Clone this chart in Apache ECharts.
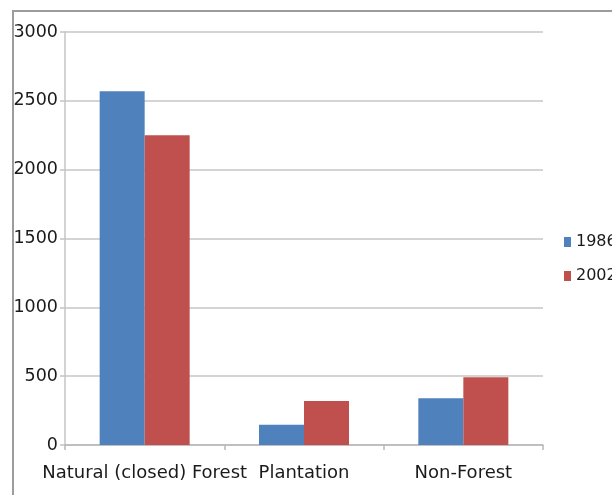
<!DOCTYPE html>
<html>
<head>
<meta charset="utf-8">
<script src="https://cdn.jsdelivr.net/npm/echarts@6/dist/echarts.min.js"></script>
<style>
  html, body { margin: 0; padding: 0; background: #fff; }
  #chart { width: 612px; height: 495px; }
</style>
</head>
<body>
<div id="chart"></div>
<script>
// Land cover area by class, two survey years
const categories = ['Natural (closed) Forest', 'Plantation', 'Non-Forest'];
const seriesNames = ['1986', '2002'];
const values1986 = [2570, 147, 340];
const values2002 = [2250, 320, 492];
const yTicks = { min: 0, max: 3000, interval: 500 };

const FONT = 'DejaVu Sans';
const chart = echarts.init(document.getElementById('chart'), null, { renderer: 'canvas' });

chart.setOption({
  animation: false,
  backgroundColor: '#ffffff',
  graphic: [{
    type: 'rect',
    silent: true,
    shape: { x: 13, y: 11, width: 700, height: 600 },
    style: { fill: 'none', stroke: '#9c9c9c', lineWidth: 2 }
  }],
  grid: { left: 65, right: 69, top: 32, bottom: 50, containLabel: false },
  legend: {
    orient: 'vertical',
    left: 559,
    top: 228,
    itemWidth: 7,
    itemHeight: 10,
    itemGap: 16,
    icon: 'rect',
    textStyle: { fontFamily: FONT, fontSize: 16, color: '#1a1a1a', lineHeight: 18 },
    data: seriesNames
  },
  xAxis: {
    type: 'category',
    data: categories,
    axisLine: { show: true, lineStyle: { color: '#b8b8b8', width: 1.5 } },
    axisTick: { show: true, length: 5, lineStyle: { color: '#b8b8b8', width: 1.5 } },
    axisLabel: {
      interval: 0,
      margin: 18,
      fontFamily: FONT,
      fontSize: 18,
      lineHeight: 20,
      color: '#1a1a1a'
    },
    splitLine: { show: false }
  },
  yAxis: {
    type: 'value',
    min: yTicks.min,
    max: yTicks.max,
    interval: yTicks.interval,
    axisLine: { show: true, lineStyle: { color: '#c4c4c4', width: 1.5 } },
    axisTick: { show: true, length: 5, lineStyle: { color: '#c4c4c4', width: 1.5 } },
    axisLabel: {
      margin: 7,
      fontFamily: FONT,
      fontSize: 17.5,
      color: '#1a1a1a',
      formatter: (v) => String(v)
    },
    splitLine: { show: true, lineStyle: { color: '#c6c6c6', width: 1.5 } }
  },
  series: [
    {
      name: seriesNames[0],
      type: 'bar',
      data: values1986,
      barWidth: 45,
      barGap: '0%',
      itemStyle: { color: '#4f81bd' }
    },
    {
      name: seriesNames[1],
      type: 'bar',
      data: values2002,
      barWidth: 45,
      barGap: '0%',
      itemStyle: { color: '#c0504d' }
    }
  ]
});
</script>
</body>
</html>
